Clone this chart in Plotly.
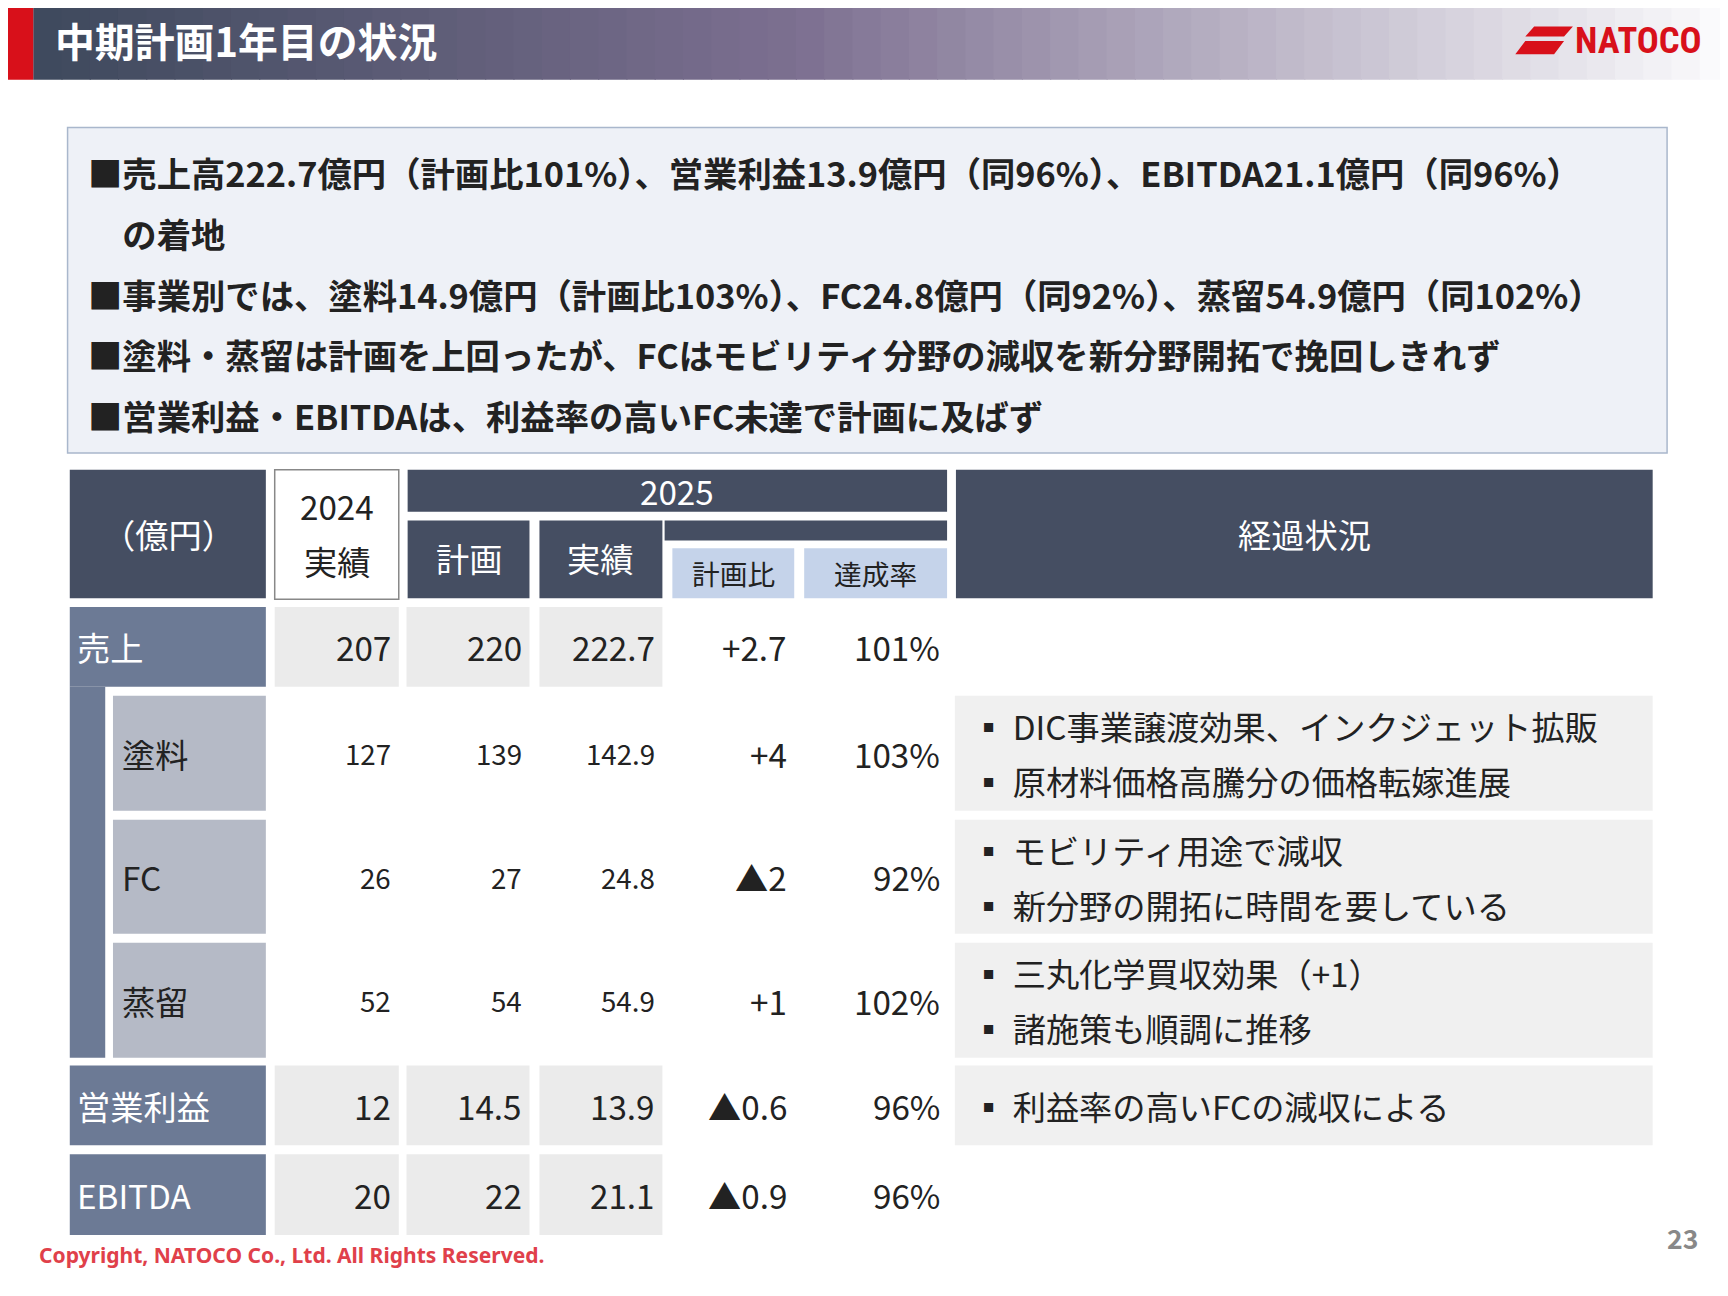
import plotly.graph_objects as go

W, H = 1560, 1170
S = 1728 / 1560
OFF = 8
FONT = "Noto Sans CJK JP"

title = "中期計画1年目の状況"
summary = [
    "■売上高222.7億円（計画比101%）、営業利益13.9億円（同96%）、EBITDA21.1億円（同96%）",
    "　の着地",
    "■事業別では、塗料14.9億円（計画比103%）、FC24.8億円（同92%）、蒸留54.9億円（同102%）",
    "■塗料・蒸留は計画を上回ったが、FCはモビリティ分野の減収を新分野開拓で挽回しきれず",
    "■営業利益・EBITDAは、利益率の高いFC未達で計画に及ばず",
]
rows = ["売上", "塗料", "FC", "蒸留", "営業利益", "EBITDA"]
actual_2024 = ["207", "127", "26", "52", "12", "20"]
plan_2025 = ["220", "139", "27", "54", "14.5", "22"]
actual_2025 = ["222.7", "142.9", "24.8", "54.9", "13.9", "21.1"]
vs_plan = ["+2.7", "+4", "▲2", "+1", "▲0.6", "▲0.9"]
achieve = ["101%", "103%", "92%", "102%", "96%", "96%"]
notes = [[], ["DIC事業譲渡効果、インクジェット拡販", "原材料価格高騰分の価格転嫁進展"],
         ["モビリティ用途で減収", "新分野の開拓に時間を要している"],
         ["三丸化学買収効果（+1）", "諸施策も順調に推移"],
         ["利益率の高いFCの減収による"], []]

row_y = [(548, 620), (628, 732), (740, 843), (851, 955), (962, 1034), (1042, 1115)]
DARK = "#454e62"; MID = "#6c7a95"; SUB = "#b5bac6"; CELL = "#ebebeb"; NOTE = "#f0f0f0"; LB = "#c5d3ea"

fig = go.Figure()
shapes, ann = [], []

def rect(x0, y0, x1, y1, fill, line=None, lw=0):
    shapes.append(dict(type="rect", xref="x", yref="y", x0=x0, x1=x1, y0=y0, y1=y1,
                       fillcolor=fill, line=dict(color=line or fill, width=lw)))

def text(x, y, t, size, color="#222", anchor="left", bold=False, font=FONT):
    if bold:
        t = "<b>" + t + "</b>"
    ann.append(dict(x=x, y=y, xref="x", yref="y", text=t, showarrow=False, xanchor=anchor,
                    yanchor="middle", font=dict(size=size * S, color=color, family=font)))

c0 = (63, 74, 94); c1 = (125, 112, 145); c2 = (250, 250, 252)
N = 60
for i in range(N):
    t = i / (N - 1)
    if t < 0.45:
        u = t / 0.45; c = [int(c0[k] + (c1[k] - c0[k]) * u) for k in range(3)]
    else:
        u = (t - 0.45) / 0.55; c = [int(c1[k] + (c2[k] - c1[k]) * u) for k in range(3)]
    x0 = 30 + (W - 30) * i / N
    rect(x0, 0, x0 + (W - 30) / N + 1, 72, "rgb(%d,%d,%d)" % tuple(c))
rect(0, 0, 30, 72, "#d8101a")
text(48, 36, title, 36, "white", bold=True)
shapes.append(dict(type="path", xref="x", yref="y",
                   path="M 1385 24 L 1420 24 L 1412 33 L 1377 33 Z M 1377 37 L 1412 37 L 1403 49 L 1368 49 Z",
                   fillcolor="#d8101a", line=dict(width=0)))
text(1420, 37, "NATOCO", 33, "#d8101a", bold=True, font="Roboto Condensed, Liberation Sans Narrow, Roboto")

rect(61, 115, 1505, 409, "#eef1f7", "#a9b7cc", 1.5)
for i, s in enumerate(summary):
    text(78, 155 + 55 * i, s, 31, "#222", bold=True)

rect(63, 424, 240, 540, DARK); text(152, 482, "（億円）", 30, "white", "center")
rect(248, 424, 360, 541, "white", "#888", 1.5)
text(304, 456, "2024", 30, "#222", "center"); text(304, 506, "実績", 30, "#222", "center")
rect(368, 424, 855, 462, DARK); text(611, 443, "2025", 30, "white", "center")
rect(600, 470, 855, 488, DARK)
rect(368, 470, 478, 540, DARK); text(423, 503, "計画", 30, "white", "center")
rect(487, 470, 598, 540, DARK); text(542, 503, "実績", 30, "white", "center")
rect(607, 495, 717, 540, LB); text(662, 517, "計画比", 25, "#222", "center")
rect(726, 495, 855, 540, LB); text(790, 517, "達成率", 25, "#222", "center")
rect(863, 424, 1492, 540, DARK); text(1178, 482, "経過状況", 30, "white", "center")

rect(63, 620, 95, 955, MID)
for i, r in enumerate(rows):
    y0, y1 = row_y[i]; ym = (y0 + y1) / 2
    main = i in (0, 4, 5)
    if main:
        rect(63, y0, 240, y1, MID); text(68, ym, r, 30, "white")
        for a, b in [(248, 360), (367, 478), (487, 598)]:
            rect(a, y0, b, y1, CELL)
        vs = 30
    else:
        rect(102, y0, 240, y1, SUB); text(108, ym, r, 30, "#222")
        vs = 25
    text(355, ym, actual_2024[i], vs, anchor="right")
    text(473, ym, plan_2025[i], vs, anchor="right")
    text(593, ym, actual_2025[i], vs, anchor="right")
    text(712, ym, vs_plan[i], 30, anchor="right")
    text(850, ym, achieve[i], 30, anchor="right")
    if notes[i]:
        rect(862, y0, 1492, y1, NOTE)
        n = len(notes[i])
        for j, nt in enumerate(notes[i]):
            yy = ym if n == 1 else ym + (j - 0.5) * 50
            text(876, yy, "▪ " + nt, 30)

text(33, 1133, "Copyright, NATOCO Co., Ltd. All Rights Reserved.", 19, "#e0404a", bold=True, font="Source Sans Pro, Noto Sans")
text(1535, 1117, "23", 24, "#888", "right", bold=True)

FW, FH = 1728 - 2 * OFF, 1296 - 2 * OFF
fig.update_layout(width=FW, height=FH, margin=dict(l=0, r=0, t=0, b=0),
                  paper_bgcolor="white", plot_bgcolor="white", shapes=shapes, annotations=ann,
                  xaxis=dict(range=[OFF / S, (FW + OFF) / S], visible=False, fixedrange=True),
                  yaxis=dict(range=[(FH + OFF) / S, OFF / S], visible=False, fixedrange=True), showlegend=False)
fig.write_html("out.html", config={"displayModeBar": False})
